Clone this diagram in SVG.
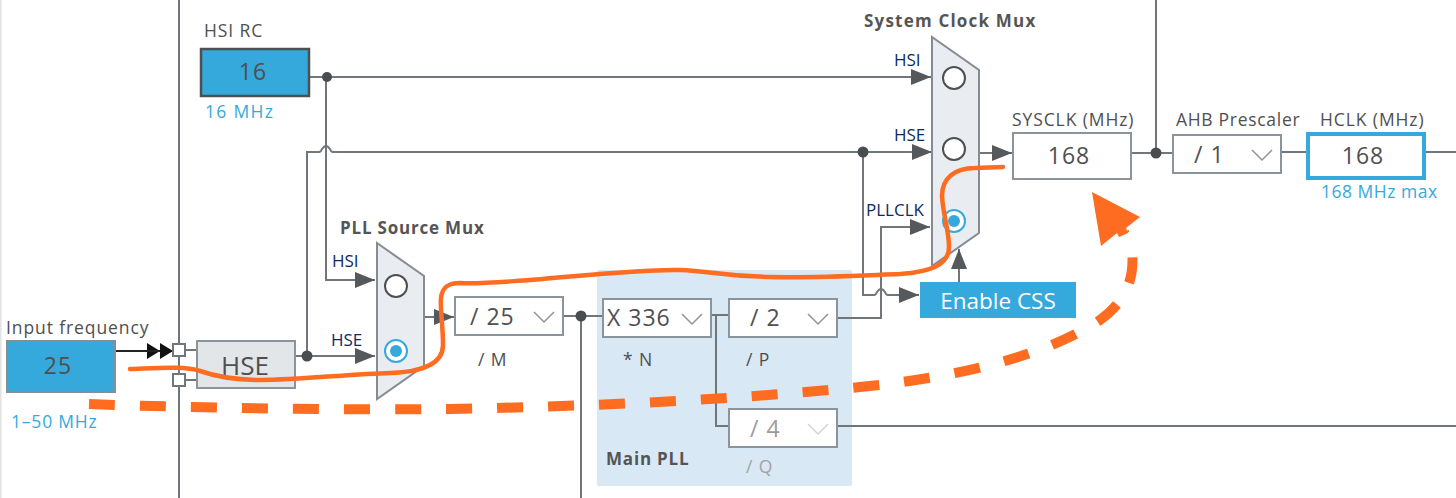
<svg xmlns="http://www.w3.org/2000/svg" width="1456" height="498" viewBox="0 0 1456 498">
<style>
text{font-family:"Open Sans","DejaVu Sans",sans-serif;fill:#4f4f4f}
.lb{font-size:17.500px;letter-spacing:.9px}
.v{font-size:23px;letter-spacing:1px}
.mid{text-anchor:middle}
.b{font-size:17px;font-weight:bold;fill:#555;letter-spacing:.8px}
.blue{font-size:17.500px;fill:#36a9dc;letter-spacing:.8px}
.nv{font-size:17px;fill:#0e2b60}
.sel{fill:#fff;stroke:#8b949b;stroke-width:2}
.chev{fill:none;stroke:#8f9498;stroke-width:1.500}
.mux{fill:#e9edf1;stroke:#858b90;stroke-width:2}
.off{fill:#fff;stroke:#4f4f4f;stroke-width:2}
.ring{fill:#fff;stroke:#36a9dc;stroke-width:2}
.dot{fill:#36a9dc}
.w{fill:none;stroke:#71767a;stroke-width:2}
.j{fill:#4a4d50}
.o{fill:none;stroke:#fd6c20;stroke-linecap:round;stroke-linejoin:round}
</style>
<defs>
<marker id="a" markerUnits="userSpaceOnUse" markerWidth="22" markerHeight="18" refX="20" refY="9" orient="auto"><path d="M0 1L20 9L0 17Z" fill="#55595c"/></marker>
<marker id="k" markerUnits="userSpaceOnUse" markerWidth="14" markerHeight="18" refX="13" refY="8" orient="auto"><path d="M0 0L13 8L0 16Z" fill="#111"/></marker>
</defs>
<rect x="0" y="0" width="1.5" height="498" fill="#e2e2e2"/>
<rect id="main-pll-panel" x="597" y="270" width="255" height="216" rx="2" fill="#d9e8f5"/>
<g id="connectors">
<path class="w" d="M179 0V498"/>
<path class="w" d="M1156 0V153"/>
<path class="w" d="M581 316V498"/>
<path d="M116 351H160" fill="none" stroke="#222" stroke-width="2" marker-end="url(#k)"/>
<path d="M116 351H173" fill="none" stroke="#222" stroke-width="2" marker-end="url(#k)"/>
<path class="w" d="M185 350H197M185 380H197"/>
<path class="w" d="M309 77H931" marker-end="url(#a)"/>
<path class="w" d="M326 77V280H375" marker-end="url(#a)"/>
<path class="w" d="M295 356H375" marker-end="url(#a)"/>
<path class="w" d="M307 356V152H319Q321 152 322 149Q326 143 330 149Q331 152 333 152H932" marker-end="url(#a)"/>
<path class="w" d="M424 317H454" marker-end="url(#a)"/>
<path class="w" d="M563 316H603"/>
<path class="w" d="M711 315H729"/>
<path class="w" d="M716 315V426H729"/>
<path class="w" d="M837 318H881V227H930" marker-end="url(#a)"/>
<path class="w" d="M837 426H1456"/>
<path class="w" d="M863 152V295H874Q876 295 877 292Q881 286 885 292Q886 295 888 295H919" marker-end="url(#a)"/>
<path class="w" d="M959 282V249" marker-end="url(#a)"/>
<path class="w" d="M979 153H1012" marker-end="url(#a)"/>
<path class="w" d="M1131 153H1173"/>
<path class="w" d="M1281 152H1308"/>
<path class="w" d="M1425 152H1456"/>
<circle class="j" cx="327" cy="77" r="5"/>
<circle class="j" cx="307" cy="356" r="5.500"/>
<circle class="j" cx="581" cy="316" r="5.500"/>
<circle class="j" cx="863" cy="152" r="5.500"/>
<circle class="j" cx="1156" cy="153" r="5.500"/>
</g>
<g id="input-frequency">
<text class="lb" x="6" y="334">Input frequency</text>
<rect x="7" y="341" width="108" height="51" fill="#36a9dc" stroke="#868e94" stroke-width="2"/>
<text class="v mid" x="58" y="374">25</text>
<text class="blue" x="11" y="428">1–50 MHz</text>
</g>
<g id="pins">
<rect x="173" y="344" width="12" height="12" fill="#fff" stroke="#71767a" stroke-width="2"/>
<rect x="173" y="374" width="12" height="12" fill="#fff" stroke="#71767a" stroke-width="2"/>
</g>
<g id="hse">
<rect x="197" y="341" width="98" height="47" fill="#e3e6e9" stroke="#8b949b" stroke-width="2"/>
<text class="mid" x="245" y="375" font-size="26">HSE</text>
</g>
<g id="hsi-rc">
<text class="lb" x="204" y="37">HSI RC</text>
<rect x="201" y="49" width="108" height="47" fill="#36a9dc" stroke="#4d4f50" stroke-width="2.500"/>
<text class="v mid" x="253" y="80">16</text>
<text class="blue" x="205" y="118" style="letter-spacing:1.3px">16 MHz</text>
</g>
<g id="pll-source-mux">
<text class="b" x="340" y="234">PLL Source Mux</text>
<polygon class="mux" points="377,243 424,276 424,366 377,399"/>
<text class="nv" x="332" y="267">HSI</text>
<text class="nv" x="331" y="346">HSE</text>
<circle class="off" cx="396" cy="286" r="11"/>
<circle class="ring" cx="396" cy="351" r="11"/>
<circle class="dot" cx="396" cy="351" r="6"/>
</g>
<g id="div-m">
<rect class="sel" x="455" y="297" width="108" height="38"/>
<text class="v" x="470" y="325">/ 25</text>
<path class="chev" d="M534 312L544 322L554 312"/>
<text class="lb" x="478" y="366">/ M</text>
</g>
<g id="mul-n">
<rect class="sel" x="603" y="299" width="108" height="38"/>
<text class="v" x="607" y="326">X 336</text>
<path class="chev" d="M682 314L692 324L702 314"/>
<text class="lb" x="623" y="366">* N</text>
</g>
<g id="div-p">
<rect class="sel" x="729" y="299" width="108" height="38"/>
<text class="v" x="750" y="326">/ 2</text>
<path class="chev" d="M808 314L818 324L828 314"/>
<text class="lb" x="746" y="366">/ P</text>
</g>
<g id="div-q">
<rect class="sel" x="729" y="409" width="108" height="38"/>
<text class="v" x="750" y="437" style="fill:#9c9c9c">/ 4</text>
<path class="chev" d="M808 424L818 434L828 424" style="stroke:#d4d4d4"/>
<text class="lb" x="746" y="473" style="fill:#a3a3a3">/ Q</text>
</g>
<text id="main-pll-label" class="b" x="606" y="465">Main PLL</text>
<g id="system-clock-mux">
<text class="b" x="864" y="27" style="letter-spacing:1.2px">System Clock Mux</text>
<polygon class="mux" points="932,37 979,70 979,233 932,266"/>
<text class="nv" x="894" y="66">HSI</text>
<text class="nv" x="894" y="141">HSE</text>
<text class="nv" x="866" y="216">PLLCLK</text>
<circle class="off" cx="954" cy="78" r="11"/>
<circle class="off" cx="954" cy="149" r="11"/>
<circle class="ring" cx="954" cy="221" r="11"/>
<circle class="dot" cx="954" cy="221" r="6"/>
</g>
<g id="enable-css">
<rect x="920" y="282" width="156" height="36" fill="#36a9dc"/>
<text class="mid" x="998" y="309" font-size="22.500" style="fill:#fff">Enable CSS</text>
</g>
<g id="sysclk">
<text class="lb" x="1012" y="126">SYSCLK (MHz)</text>
<rect class="sel" x="1013" y="133" width="118" height="46"/>
<text class="v mid" x="1069" y="164">168</text>
</g>
<g id="ahb-prescaler">
<text class="lb" x="1176" y="126" style="letter-spacing:.7px">AHB Prescaler</text>
<rect class="sel" x="1173" y="135" width="108" height="38"/>
<text class="v" x="1194" y="163">/ 1</text>
<path class="chev" d="M1252 150L1262 160L1272 150"/>
</g>
<g id="hclk">
<text class="lb" x="1320" y="126">HCLK (MHz)</text>
<rect x="1308" y="134" width="116" height="44" fill="#fff" stroke="#36a9dc" stroke-width="4"/>
<text class="v mid" x="1363" y="164">168</text>
<text class="blue" x="1321" y="198" style="letter-spacing:.5px">168 MHz max</text>
</g>
<g id="annotation">
<path class="o" stroke-width="4.500" d="M130 369C160 368 185 366 200 371C220 378 240 380 260 380C300 380 350 374 390 373C420 372 443 365 443 345C443 325 440 310 441 298C442 288 447 283 460 283C480 284 500 282 530 280C570 277 640 269 680 270C710 271 720 276 770 277C820 278 870 275 900 274C930 272 949 265 949 247C949 230 943 215 942 196C942 178 955 168 975 168L1003 167"/>
<path d="M89 404C200 408 330 410 450 409C600 406 730 400 860 387C960 377 1045 356 1100 320C1125 302 1135 280 1132 250L1124 232" fill="none" stroke="#fd6c20" stroke-width="10" stroke-dasharray="26 25"/>
<polygon points="1092,192 1140,217 1126,228 1128,233 1119,237 1117,233 1101,246" fill="#fd6c20"/>
</g>
</svg>
